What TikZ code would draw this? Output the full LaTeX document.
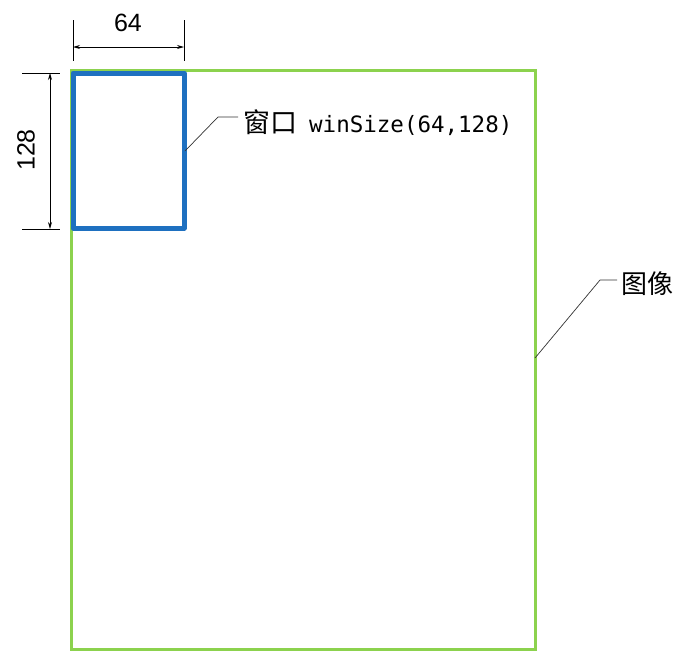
\documentclass[tikz,border=0pt]{standalone}
\usepackage{fontspec}
\setmainfont{Liberation Sans}
\newfontfamily\cjk{Noto Sans CJK SC}
\newfontfamily\monof{DejaVu Sans Mono}
\usetikzlibrary{arrows.meta}
\definecolor{imggreen}{HTML}{8CD24E}
\definecolor{winblue}{HTML}{1E70C0}
\begin{document}
\begin{tikzpicture}[x=1pt,y=-1pt,
  dimline/.style={draw=black,line width=0.8pt},
  dimarrow/.style={dimline,{Stealth[length=7pt,width=4pt]}-{Stealth[length=7pt,width=4pt]}},
  leader/.style={draw=black!80,line width=0.7pt},
  lbl/.style={inner sep=0pt,anchor=west}]
\useasboundingbox (0,0) rectangle (691,667);
% image rectangle
\draw[imggreen,line width=3pt] (71,70) rectangle (535,649);
% window rectangle
\draw[winblue,line width=5pt,line join=round] (73,73) rectangle (184,228);
% horizontal dimension
\coordinate (tl1) at (73,20); \coordinate (tl2) at (73,61);
\coordinate (tr1) at (184,20); \coordinate (tr2) at (184,61);
\draw[dimline] (tl1) -- (tl2);
\draw[dimline] (tr1) -- (tr2);
\coordinate (ha) at (73,47); \coordinate (hb) at (184,47);
\draw[dimarrow] (ha) -- (hb);
\node (w64) at (128,23) [font=\fontsize{25}{25}\selectfont] {64};
% vertical dimension
\coordinate (lt1) at (22,73); \coordinate (lt2) at (60,73);
\coordinate (lb1) at (22,229); \coordinate (lb2) at (60,229);
\draw[dimline] (lt1) -- (lt2);
\draw[dimline] (lb1) -- (lb2);
\coordinate (va) at (50,73); \coordinate (vb) at (50,229);
\draw[dimarrow] (va) -- (vb);
\node (h128) at (26,150) [rotate=90,font=\fontsize{25}{25}\selectfont] {128};
% window label
\coordinate (wl0) at (185,151); \coordinate (wl1) at (218,117); \coordinate (wl2) at (238,117);
\draw[leader] (wl0) -- (wl1) -- (wl2);
\node (wlabel) [lbl] at (243,123) {{\cjk\fontsize{27}{27}\selectfont 窗口}\hspace{12pt}{\monof\fontsize{22.5}{22.5}\selectfont winSize(64,128)}};
% image label
\coordinate (il0) at (535,358); \coordinate (il1) at (600,280); \coordinate (il2) at (617,280);
\draw[leader] (il0) -- (il1) -- (il2);
\node (ilabel) [lbl] at (621,284) {\cjk\fontsize{26}{26}\selectfont 图像};
\end{tikzpicture}
\end{document}
